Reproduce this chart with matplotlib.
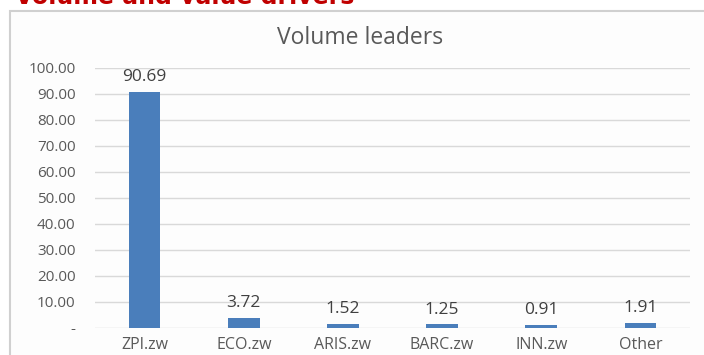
import matplotlib
matplotlib.use("Agg")
import matplotlib.pyplot as plt
from matplotlib.patches import Rectangle

categories = ["ZPI.zw", "ECO.zw", "ARIS.zw", "BARC.zw", "INN.zw", "Other"]
values = [90.69, 3.72, 1.52, 1.25, 0.91, 1.91]
yticks = [0, 10, 20, 30, 40, 50, 60, 70, 80, 90, 100]
ytick_labels = ["-", "10.00", "20.00", "30.00", "40.00", "50.00", "60.00",
                "70.00", "80.00", "90.00", "100.00"]
chart_title = "Volume leaders"
page_title = "Volume and value drivers"

plt.rcParams['font.family'] = ['Open Sans', 'DejaVu Sans']

W, H = 704, 355
fig = plt.figure(figsize=(W / 100, H / 100), dpi=100)
fig.patch.set_facecolor("white")

# chart frame
frame = Rectangle((10 / W, -0.1), 1.2, 1 - 11 / H + 0.1,
                  transform=fig.transFigure, facecolor="#fdfdfd",
                  edgecolor="#d0d0d0", linewidth=1.5, zorder=-5)
fig.patches.append(frame)

# clipped page heading
fig.text(15 / W, 1 - 4.5 / H, page_title, color="#c00000", fontsize=17,
         fontweight="bold", family=["DejaVu Sans"], ha="left", va="baseline")

ax = fig.add_axes([95 / W, 1 - 327.7 / H, 595 / W, 260 / H])
ax.set_zorder(2)
ax.set_facecolor("none")
x = list(range(len(categories)))
ax.bar(x, values, width=0.32, color="#4a7ebb", zorder=3)
ax.set_xlim(-0.5, len(categories) - 0.5)
ax.set_ylim(0, 100)
ax.set_yticks(yticks)
ax.set_yticklabels(ytick_labels)
ax.set_xticks(x)
ax.set_xticklabels(categories)
ax.grid(axis="y", color="#d9d9d9", linewidth=1.0, zorder=0)
for s in ax.spines.values():
    s.set_visible(False)
ax.tick_params(axis="both", length=0, colors="#595959")
ax.tick_params(axis="y", pad=14, labelsize=11)
ax.tick_params(axis="x", pad=7, labelsize=11.5)

for xi, v in zip(x, values):
    ax.annotate(f"{v:.2f}", (xi, v), xytext=(0, 5), textcoords="offset points",
                ha="center", va="bottom", color="#404040", fontsize=12.5,
                fontweight="medium")

fig.text(360 / W, 1 - 38 / H, chart_title, ha="center", va="center",
         color="#595959", fontsize=16.5)

fig.savefig("out.png", dpi=100)
